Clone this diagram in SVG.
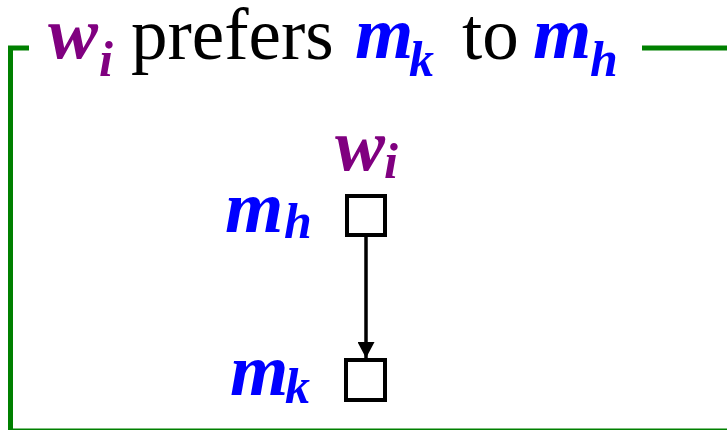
<svg xmlns="http://www.w3.org/2000/svg" width="727" height="430" viewBox="0 0 727 430">
<defs>
<style>
.frame{fill:none;stroke:#008000;stroke-width:5}
.rm{font-family:"Liberation Serif","Times New Roman",serif;font-size:73px;fill:#000}
.v{font-family:"Liberation Serif","Times New Roman",serif;font-weight:bold;font-style:italic;font-size:75px}
.s{font-size:50px}
.p{fill:#800080}
.b{fill:#0000FF}
.box{fill:#fff;stroke:#000;stroke-width:4}
.conn{stroke:#000;stroke-width:3.5;fill:none}
</style>
<marker id="arr" markerUnits="userSpaceOnUse" markerWidth="17" markerHeight="17" refX="16" refY="8.5" orient="auto">
<path d="M0,0 L16,8.5 L0,17 z" fill="#000"/>
</marker>
</defs>
<rect width="727" height="430" fill="#fff"/>
<g id="frame">
<path class="frame" d="M29,48 H10.5 V431 H740"/>
<path class="frame" d="M642,48 H740"/>
</g>
<g id="title">
<text class="v p" x="48" y="58">w<tspan class="s" x="99" y="76">i</tspan></text>
<text class="rm" x="131" y="59">prefers</text>
<text class="v b" x="355" y="58">m<tspan class="s" x="409" y="76">k</tspan></text>
<text class="rm" x="462" y="59">to</text>
<text class="v b" x="533" y="58">m<tspan class="s" x="590" y="76">h</tspan></text>
</g>
<g id="connectors">
<line class="conn" x1="366" y1="232" x2="366" y2="358" marker-end="url(#arr)"/>
</g>
<g id="node-h">
<rect class="box" x="347" y="196" width="38" height="39"/>
<text class="v p" x="335" y="170">w<tspan class="s" x="384" y="178">i</tspan></text>
<text class="v b" x="225" y="232">m<tspan class="s" x="284" y="238">h</tspan></text>
</g>
<g id="node-k">
<rect class="box" x="346" y="360" width="39" height="40"/>
<text class="v b" x="230" y="395">m<tspan class="s" x="285" y="403">k</tspan></text>
</g>
</svg>
